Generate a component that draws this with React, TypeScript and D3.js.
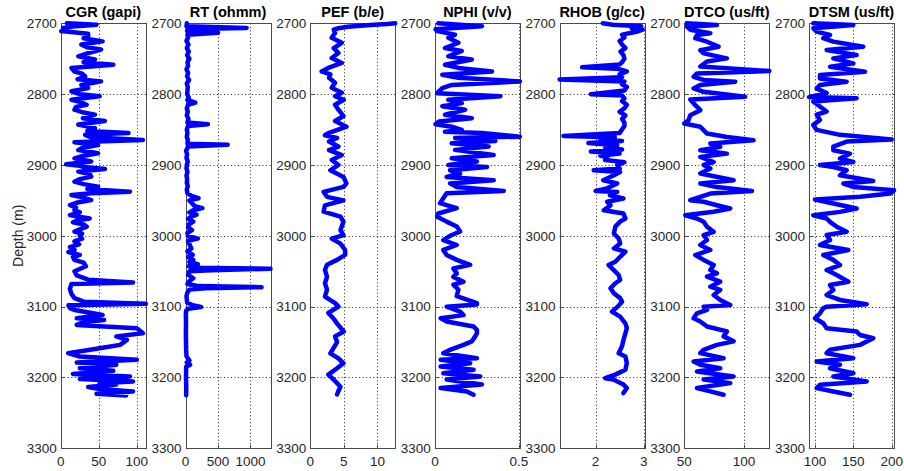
import React from "react";
import * as d3 from "d3";

const W = 904;
const H = 471;

// Depth axis (m) and track setup
const depthDomain: [number, number] = [2700, 3300];
const depthTicks = [2700, 2800, 2900, 3000, 3100, 3200, 3300];
const trackTitles = ["CGR (gapi)", "RT (ohmm)", "PEF (b/e)", "NPHI (v/v)", "RHOB (g/cc)", "DTCO (us/ft)", "DTSM (us/ft)"];
const trackDomains: [number, number][] = [
  [0, 111.8],
  [0, 1308],
  [0, 12.65],
  [0, 0.506],
  [1.25, 3.02],
  [50, 121.2],
  [92.2, 203],
];
const trackTicks: number[][] = [
  [0, 50, 100],
  [0, 500, 1000],
  [0, 5, 10],
  [0, 0.5],
  [2, 3],
  [50, 100],
  [100, 150, 200],
];

// Log curves as [depth (m), value]
const cgr: [number, number][] = [
  [2700, 8], [2702, 47], [2704, 20], [2706.6, 3], [2709, 8], [2711, 0.5], [2714.6, 36], [2718, 36], [2721, 30],
  [2725.5, 55], [2730, 27], [2734, 35], [2737, 53], [2742, 36], [2746.7, 23], [2751, 45], [2755, 30], [2758.5, 69],
  [2763, 14], [2768, 18], [2771, 28], [2775, 32], [2779, 22], [2782, 53], [2787, 27], [2791.5, 36], [2796, 14],
  [2800, 25], [2803, 51], [2808, 14], [2811, 25], [2815, 34], [2818, 20], [2822, 18], [2826, 30], [2829, 45],
  [2834, 29], [2838, 58], [2843, 23], [2848, 45], [2852, 35], [2855, 89], [2857.5, 32], [2861, 40], [2864.6, 108],
  [2868, 18], [2872, 49], [2876, 28], [2879, 23], [2883.5, 49], [2887, 30], [2890.6, 18], [2895, 40], [2899, 7],
  [2901, 25], [2903, 30], [2905.7, 58], [2909.4, 23], [2913, 38], [2916.5, 40], [2920, 25], [2923.6, 18], [2927, 30],
  [2930.7, 49], [2934, 35], [2937.7, 91], [2940, 40], [2942.5, 14], [2946, 30], [2949.5, 40], [2953, 22],
  [2956.6, 12], [2960, 20], [2963.7, 18], [2967, 25], [2970.8, 12], [2975.5, 38], [2978, 22], [2981, 16],
  [2984, 30], [2987, 34], [2991, 25], [2994, 18], [2997, 28], [3000, 25], [3004, 28], [3008, 18], [3012, 24],
  [3016, 12], [3020, 18], [3023, 10], [3027, 25], [3030, 16], [3034, 18], [3038, 30], [3043, 33], [3050, 18],
  [3056, 21], [3062, 36], [3066, 95], [3068, 14], [3075, 12], [3082, 14], [3088, 18], [3093, 30], [3096, 111.8],
  [3098, 10], [3102, 12], [3104.7, 18], [3108, 35], [3111.7, 55], [3116.4, 21], [3118.8, 57], [3122, 30],
  [3125.8, 21], [3130.5, 100], [3134, 104], [3137.6, 108], [3142, 73], [3147, 87], [3154, 78], [3158.7, 51],
  [3165.7, 9.7], [3170.4, 25], [3175, 100], [3179, 21], [3182, 73], [3187, 25], [3190.6, 69], [3195, 16],
  [3198.6, 91], [3202, 25], [3205.6, 95], [3208, 51], [3210, 73], [3213.6, 36], [3216.4, 51], [3219.7, 95],
  [3223, 47], [3225.4, 86],
];

const rt: [number, number][] = [
  [2700, 20], [2704, 15], [2706.5, 940], [2708, 30], [2711, 25], [2713.5, 500], [2716, 30], [2720, 40], [2725, 15],
  [2730, 45], [2735, 20], [2740, 50], [2745, 25], [2750, 60], [2755, 30], [2760, 40], [2765, 15], [2770, 40],
  [2775, 25], [2780, 55], [2785, 20], [2790, 35], [2795, 30], [2800, 25], [2805, 50], [2808, 30], [2812, 150],
  [2815, 40], [2820, 20], [2825, 35], [2830, 20], [2835, 45], [2840, 30], [2842.5, 345], [2845, 40], [2850, 20],
  [2855, 30], [2860, 20], [2865, 35], [2870, 30], [2871.5, 650], [2874, 40], [2880, 10], [2885, 25], [2890, 15],
  [2895, 35], [2900, 20], [2905, 15], [2910, 30], [2915, 15], [2920, 25], [2925, 20], [2930, 35], [2935, 20],
  [2940, 30], [2944, 100], [2947, 200], [2950, 60], [2955, 110], [2958, 140], [2961, 260], [2964, 120], [2967, 60],
  [2970, 170], [2973, 90], [2976, 40], [2980, 120], [2984, 50], [2988, 40], [2992, 100], [2996, 30], [3000, 40],
  [3004, 190], [3007, 40], [3012, 60], [3018, 90], [3022, 30], [3027, 110], [3030, 40], [3034, 120], [3037, 60],
  [3040, 190], [3043, 50], [3045, 100], [3046.5, 1308], [3048.5, 400], [3050, 60], [3055, 40], [3060, 120],
  [3064, 60], [3068, 30], [3071, 200], [3072.5, 1170], [3074, 300], [3076, 60], [3080, 30], [3085, 15], [3090, 20],
  [3094, 25], [3098, 110], [3100.5, 240], [3103, 40], [3106, 10], [3110, 5], [3120, 8], [3140, 6], [3160, 10],
  [3170, 15], [3176, 60], [3179, 20], [3182, 70], [3185, 10], [3200, 8], [3215, 12], [3225, 10],
];

const pef: [number, number][] = [
  [2700, 12.65], [2701, 11.5], [2702, 9.5], [2703.5, 7.5], [2705, 5.6], [2707, 4.2], [2709, 3.5], [2713.5, 3.7],
  [2720.5, 3.2], [2727.5, 4.7], [2735, 3.5], [2742, 4.2], [2749, 3.2], [2756, 4.7], [2763, 2.7], [2768, 1.7],
  [2772, 3.0], [2777, 2.8], [2784, 3.7], [2791, 3.2], [2798, 4.7], [2803, 3.7], [2808, 5.0], [2815, 3.7],
  [2822, 4.2], [2831, 4.95], [2838, 3.7], [2846, 5.4], [2855, 2.7], [2858, 2.2], [2862, 4.0], [2867, 2.8],
  [2874, 4.2], [2879, 2.8], [2886, 4.7], [2893, 3.2], [2900, 4.2], [2907.5, 3.0], [2917, 4.95], [2926, 5.4],
  [2931, 4.95], [2938, 2.0], [2945, 2.5], [2950, 4.95], [2957, 2.2], [2966, 2.0], [2973, 4.5], [2980, 4.95],
  [2992, 4.5], [2999, 4.95], [3004, 3.2], [3011, 4.5], [3020, 5.2], [3027, 5.2], [3034, 4.0], [3041, 2.5],
  [3048, 2.2], [3058, 2.5], [3067, 2.2], [3076, 2.5], [3086, 2.2], [3095, 3.7], [3100, 4.2], [3109, 2.7],
  [3117, 3.5], [3124, 4.0], [3135, 5.0], [3142, 3.7], [3150, 4.0], [3166, 3.0], [3173, 4.2], [3180, 4.95],
  [3187, 4.0], [3196, 2.7], [3203, 3.5], [3213, 4.5], [3219, 4.2], [3224, 4.0],
];

const nphi: [number, number][] = [
  [2700, 0.02], [2704, 0.28], [2708.5, 0.004], [2711, 0.014], [2716, 0.12], [2720.5, 0.08], [2727.5, 0.14],
  [2735, 0.06], [2739, 0.16], [2746.7, 0.08], [2751, 0.22], [2758.5, 0.06], [2763, 0.14], [2768, 0.34],
  [2772.6, 0.044], [2777, 0.14], [2782, 0.506], [2787, 0.1], [2791.5, 0.044], [2798.6, 0.014], [2803, 0.39],
  [2808, 0.08], [2812.7, 0.16], [2817, 0.044], [2822, 0.18], [2829, 0.06], [2834, 0.22], [2838.7, 0.024],
  [2842.5, 0.004], [2846, 0.1], [2850.5, 0.16], [2853, 0.06], [2855, 0.28], [2860, 0.506], [2862, 0.12],
  [2866, 0.36], [2869.4, 0.1], [2874, 0.32], [2878.7, 0.12], [2886, 0.35], [2890.6, 0.1], [2895, 0.25],
  [2900, 0.08], [2902.8, 0.31], [2907.5, 0.09], [2912, 0.15], [2916.9, 0.07], [2921.6, 0.35], [2926, 0.09],
  [2931, 0.13], [2936.6, 0.41], [2940, 0.07], [2947, 0.05], [2954, 0.03], [2961, 0.13], [2968.5, 0.02],
  [2973, 0.014], [2980, 0.07], [2987, 0.13], [2994, 0.15], [3000, 0.09], [3006, 0.05], [3013, 0.13], [3020, 0.05],
  [3027, 0.07], [3034, 0.13], [3041, 0.21], [3046, 0.11], [3053, 0.13], [3058, 0.11], [3065, 0.17], [3069, 0.11],
  [3076, 0.14], [3085, 0.13], [3095, 0.25], [3097, 0.25], [3100, 0.07], [3107, 0.15], [3112, 0.17], [3116.4, 0.034],
  [3121, 0.07], [3128, 0.23], [3132.9, 0.25], [3137.6, 0.25], [3142, 0.24], [3149, 0.22], [3154, 0.17],
  [3161, 0.09], [3165.7, 0.05], [3172.8, 0.25], [3175, 0.034], [3179.8, 0.21], [3184.5, 0.034], [3189, 0.23],
  [3194, 0.05], [3198.6, 0.27], [3203, 0.07], [3210, 0.28], [3215, 0.034], [3219.7, 0.19], [3224.4, 0.23],
];

const rhob: [number, number][] = [
  [2700, 2.15], [2702, 2.35], [2704, 2.95], [2707, 2.75], [2709, 2.98], [2712, 2.85], [2716, 2.55], [2720, 2.6],
  [2725, 2.5], [2730, 2.55], [2735, 2.62], [2740, 2.52], [2745, 2.58], [2750, 2.6], [2755, 2.55], [2758, 2.5],
  [2762, 1.72], [2764, 2.45], [2768, 2.65], [2772, 2.5], [2776, 2.55], [2779.5, 1.25], [2782, 2.6], [2786, 2.55],
  [2790, 2.65], [2795, 2.6], [2800, 1.9], [2802, 2.55], [2806, 2.6], [2810, 2.55], [2815, 2.65], [2820, 2.6],
  [2825, 2.5], [2830, 2.62], [2835, 2.55], [2840, 2.6], [2845, 2.6], [2850, 2.55], [2855, 2.5], [2859, 1.33],
  [2861, 2.4], [2864, 2.1], [2866, 2.55], [2869, 1.85], [2872, 2.45], [2875, 2.2], [2878, 2.55], [2881, 1.9],
  [2884, 2.5], [2887, 2.1], [2888.7, 2.24], [2893, 2.2], [2896, 2.6], [2900, 2.45], [2905, 2.5], [2907.5, 1.96],
  [2910, 2.51], [2914.6, 2.38], [2921.6, 2.16], [2926, 2.45], [2933, 2.24], [2936.6, 2.0], [2938, 2.45],
  [2942.7, 2.3], [2947.4, 2.58], [2952, 2.24], [2957, 2.31], [2964, 2.17], [2968.5, 2.58], [2975.6, 2.62],
  [2980, 2.51], [2987, 2.41], [2996.7, 2.38], [3003.8, 2.48], [3010.8, 2.51], [3017.8, 2.38], [3022.5, 2.62],
  [3029.6, 2.51], [3036.6, 2.41], [3041.3, 2.27], [3048.4, 2.38], [3055.4, 2.48], [3062.4, 2.51], [3067, 2.41],
  [3074, 2.31], [3081, 2.38], [3088, 2.51], [3093, 2.55], [3100, 2.46], [3107, 2.34], [3114, 2.51], [3123.5, 2.62],
  [3130.5, 2.65], [3137.6, 2.62], [3147, 2.58], [3156, 2.55], [3165.7, 2.48], [3170.4, 2.62], [3180, 2.65],
  [3189, 2.62], [3196, 2.41], [3201, 2.2], [3203, 2.37], [3210, 2.58], [3215, 2.65], [3222, 2.58],
];

const dtco: [number, number][] = [
  [2700, 52], [2702.4, 77.3], [2704.7, 52.2], [2709, 55], [2714, 71.8], [2716.5, 60.6], [2721, 59.2], [2726, 69],
  [2733, 78.7], [2738, 63.4], [2742.5, 66.2], [2749.5, 85.7], [2754, 69], [2761, 63.4], [2767.5, 121.2],
  [2770.8, 60.6], [2775.5, 57.8], [2780, 66.2], [2782.5, 92.7], [2787, 63.4], [2792, 57.8], [2796.7, 66.2],
  [2803.8, 101], [2807.5, 55], [2813, 57.8], [2822.6, 63.4], [2829.7, 55], [2836.8, 53.5], [2841.5, 50],
  [2846, 63.4], [2855.7, 69], [2860.4, 85.7], [2865, 108], [2869.8, 71.8], [2874.5, 80.1], [2879.3, 63.4],
  [2884, 85.7], [2888.7, 63.4], [2895.8, 74.6], [2900, 66.2], [2905, 71.8], [2912, 63.4], [2921.6, 91.3],
  [2926.3, 63.4], [2931, 77.3], [2936.6, 106.7], [2940.4, 71.8], [2945, 63.4], [2949.8, 55], [2952, 66.2],
  [2956.8, 77.3], [2961.5, 88.5], [2966, 74.6], [2971, 50.8], [2975.6, 60.6], [2980.3, 66.2], [2987.3, 69],
  [2994.4, 74.6], [2999, 66.2], [3006, 69], [3013, 63.4], [3020, 71.8], [3027.2, 59.2], [3034, 66.2],
  [3041.3, 74.6], [3048.4, 71.8], [3053, 77.3], [3057.7, 69], [3064.8, 80.1], [3071.8, 71.8], [3076.5, 80.1],
  [3083.6, 74.6], [3090.6, 80.1], [3097.7, 88.5], [3100, 66.2], [3104.7, 69], [3109.4, 60.6], [3116.4, 57.8],
  [3121, 63.4], [3128, 69], [3135, 85.7], [3142, 82.9], [3149, 91.3], [3154, 77.3], [3161, 66.2], [3165.7, 63.4],
  [3172.8, 82.9], [3177.5, 57.8], [3182, 63.4], [3187, 80.1], [3191.5, 60.6], [3198.6, 91.3], [3203, 66.2],
  [3208, 88.5], [3215, 60.6], [3219.7, 71.8], [3224.4, 82.9],
];

const dtsm: [number, number][] = [
  [2700, 97.8], [2702.4, 150], [2707, 97.8], [2711.8, 102.2], [2716.5, 119.6], [2721, 110.8], [2725.9, 123.9],
  [2733, 163], [2737.7, 115.2], [2742.5, 141.3], [2744.8, 154.3], [2749.5, 123.9], [2756.6, 150], [2761.3, 119.6],
  [2768.4, 165.2], [2773, 106.5], [2777.8, 106.5], [2782.5, 141.3], [2787, 106.5], [2792, 102.2], [2798.6, 115.2],
  [2804.2, 92.2], [2805.7, 154.3], [2810.4, 97.8], [2817.5, 106.5], [2824.5, 115.2], [2829, 102.2],
  [2836.3, 106.5], [2843.4, 97.8], [2850.5, 102.2], [2857.5, 132.6], [2864, 200], [2867, 141.3], [2874, 123.9],
  [2879.3, 123.9], [2884, 145.6], [2891, 132.6], [2895.8, 150], [2900, 106.5], [2902.8, 123.9], [2907.5, 141.3],
  [2914.6, 132.6], [2922.5, 176], [2926.3, 137], [2931, 150], [2935.7, 203], [2940.4, 198], [2945, 158.7],
  [2948.8, 100], [2954.5, 123.9], [2961.5, 154.3], [2966.2, 132.6], [2971, 97.8], [2975.6, 115.2],
  [2980.3, 119.6], [2987.3, 128.3], [2994.4, 141.3], [2999, 115.2], [3006, 119.6], [3013, 106.5], [3020, 143.5],
  [3027.2, 110.8], [3034, 123.9], [3041.3, 132.6], [3048.4, 115.2], [3055.4, 128.3], [3064.8, 143.5],
  [3069.5, 119.6], [3076.5, 123.9], [3083.6, 115.2], [3090.6, 132.6], [3096.5, 167.4], [3100, 115.2],
  [3102.3, 110.8], [3109.4, 106.5], [3116.4, 100], [3123.5, 110.8], [3130.5, 115.2], [3135.2, 154.3],
  [3140, 158.7], [3144.6, 176], [3149.3, 167.4], [3154, 158.7], [3161, 119.6], [3165.7, 115.2], [3172.8, 150],
  [3177.5, 102.2], [3182, 132.6], [3187, 119.6], [3194, 150], [3198.6, 123.9], [3205.6, 167.4], [3210.3, 106.5],
  [3215, 102.2], [3219.7, 123.9], [3224.4, 145.6],
];

const curves = [cgr, rt, pef, nphi, rhob, dtco, dtsm];

// Layout
const firstLeft = 60.8;
const trackStep = 124.7;
const trackWidth = 85;
const plotTop = 23.3;
const plotBottom = 448.3;

const FONT = "'Liberation Sans', Arial, Helvetica, sans-serif";
const AXIS_COLOR = "#4a4a4a";
const TEXT_COLOR = "#262626";

const yScale = d3.scaleLinear().domain(depthDomain).range([plotTop, plotBottom]);

function Track({ index }: { index: number }) {
  const left = firstLeft + index * trackStep;
  const right = left + trackWidth;
  const x = d3.scaleLinear().domain(trackDomains[index]).range([left, right]);
  const line = d3
    .line<[number, number]>()
    .x((d) => x(d[1]))
    .y((d) => yScale(d[0]));
  const path = line(curves[index]) || "";
  const innerDepth = depthTicks.filter((d) => d !== depthDomain[0] && d !== depthDomain[1]);

  return (
    <g>
      {/* grid */}
      {innerDepth.map((d) => (
        <line
          key={"gy" + d}
          x1={left}
          x2={right}
          y1={Math.round(yScale(d)) + 0.5}
          y2={Math.round(yScale(d)) + 0.5}
          stroke="#222"
          strokeWidth={1}
          strokeDasharray="1 2.5"
        />
      ))}
      {trackTicks[index].map((t) => (
        <line
          key={"gx" + t}
          x1={Math.round(x(t)) + 0.5}
          x2={Math.round(x(t)) + 0.5}
          y1={plotTop}
          y2={plotBottom}
          stroke="#222"
          strokeWidth={1}
          strokeDasharray="1 2.5"
        />
      ))}
      {/* box */}
      <rect
        x={Math.round(left) + 0.5}
        y={Math.round(plotTop) + 0.5}
        width={Math.round(right) - Math.round(left)}
        height={Math.round(plotBottom) - Math.round(plotTop)}
        fill="none"
        stroke={AXIS_COLOR}
        strokeWidth={1}
      />
      {/* tick marks */}
      {depthTicks.map((d) => (
        <line
          key={"ty" + d}
          x1={Math.round(left) + 0.5}
          x2={Math.round(left) + 4}
          y1={Math.round(yScale(d)) + 0.5}
          y2={Math.round(yScale(d)) + 0.5}
          stroke={AXIS_COLOR}
        />
      ))}
      {trackTicks[index].map((t) => (
        <line
          key={"tx" + t}
          x1={Math.round(x(t)) + 0.5}
          x2={Math.round(x(t)) + 0.5}
          y1={Math.round(plotBottom) + 0.5}
          y2={Math.round(plotBottom) - 3}
          stroke={AXIS_COLOR}
        />
      ))}
      {/* curve */}
      <path
        d={path}
        fill="none"
        stroke="#0000ff"
        strokeWidth={4.5}
        strokeLinejoin="round"
        strokeLinecap="round"
      />
      {/* labels */}
      {depthTicks.map((d) => (
        <text
          key={"ly" + d}
          x={left - 4}
          y={yScale(d)}
          dy="0.36em"
          textAnchor="end"
          fontSize={13.5}
          fontFamily={FONT}
          fill={TEXT_COLOR}
        >
          {d}
        </text>
      ))}
      {trackTicks[index].map((t) => (
        <text
          key={"lx" + t}
          x={x(t)}
          y={465.5}
          textAnchor="middle"
          fontSize={13.5}
          fontFamily={FONT}
          fill={TEXT_COLOR}
        >
          {String(t)}
        </text>
      ))}
      <text
        x={(left + right) / 2}
        y={17.3}
        textAnchor="middle"
        fontSize={14.5}
        fontWeight="bold"
        fontFamily={FONT}
        fill="#000"
      >
        {trackTitles[index]}
      </text>
    </g>
  );
}

export default function App() {
  return (
    <svg
      width={W}
      height={H}
      viewBox={`0 0 ${W} ${H}`}
      style={{ position: "absolute", left: 0, top: 0, background: "#fff" }}
    >
      <rect x={0} y={0} width={W} height={H} fill="#fff" />
      {trackTitles.map((_, i) => (
        <Track key={i} index={i} />
      ))}
      <text
        transform={`translate(23, ${(plotTop + plotBottom) / 2}) rotate(-90)`}
        textAnchor="middle"
        fontSize={14}
        fontFamily={FONT}
        fill={TEXT_COLOR}
      >
        Depth (m)
      </text>
    </svg>
  );
}
